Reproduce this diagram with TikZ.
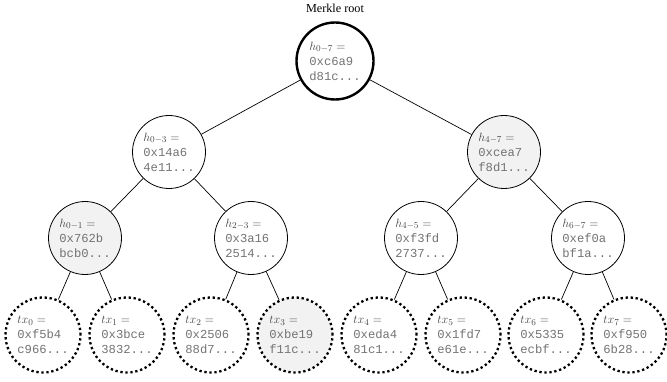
\documentclass[tikz,border=0pt]{standalone}
\usepackage{fontspec}
\setmainfont{Liberation Serif}
\setmonofont{Liberation Mono}
\definecolor{mathgray}{RGB}{70,70,70}
\definecolor{txtgray}{RGB}{115,115,115}
\definecolor{lightfill}{RGB}{242,242,242}
\begin{document}
\begin{tikzpicture}[x=1pt,y=-1pt,
  hnode/.style={circle,draw=black,line width=0.8pt,minimum size=73pt,inner sep=0pt,align=left,text=txtgray,font=\fontsize{12.2}{15}\selectfont},
  rootnode/.style={hnode,line width=2.4pt,minimum size=77pt},
  leafnode/.style={hnode,line width=2.3pt,dash pattern=on 2.3pt off 2.7pt,minimum size=75pt},
  shaded/.style={fill=lightfill},
  edge/.style={draw=black,line width=0.7pt},
  lbl/.style={font=\fontsize{12.2}{15}\selectfont,text=black}]
\useasboundingbox (0,0) rectangle (667,382);

\node[rootnode] (r) at (335,61) {\textcolor{mathgray}{$h_{0-7}=$}\\\texttt{0xc6a9}\\\texttt{d81c...}};
\node[lbl] (rl) at (335,8) {Merkle root};

\node[hnode] (a) at (169,152) {\textcolor{mathgray}{$h_{0-3}=$}\\\texttt{0x14a6}\\\texttt{4e11...}};
\node[hnode,shaded] (b) at (504,152) {\textcolor{mathgray}{$h_{4-7}=$}\\\texttt{0xcea7}\\\texttt{f8d1...}};

\node[hnode,shaded] (c) at (85,238) {\textcolor{mathgray}{$h_{0-1}=$}\\\texttt{0x762b}\\\texttt{bcb0...}};
\node[hnode] (d) at (251,238) {\textcolor{mathgray}{$h_{2-3}=$}\\\texttt{0x3a16}\\\texttt{2514...}};
\node[hnode] (e) at (421,238) {\textcolor{mathgray}{$h_{4-5}=$}\\\texttt{0xf3fd}\\\texttt{2737...}};
\node[hnode] (f) at (588,238) {\textcolor{mathgray}{$h_{6-7}=$}\\\texttt{0xef0a}\\\texttt{bf1a...}};

\node[leafnode] (t0) at (43,335) {\textcolor{mathgray}{$tx_0=$}\\\texttt{0xf5b4}\\\texttt{c966...}};
\node[leafnode] (t1) at (127,335) {\textcolor{mathgray}{$tx_1=$}\\\texttt{0x3bce}\\\texttt{3832...}};
\node[leafnode] (t2) at (211,335) {\textcolor{mathgray}{$tx_2=$}\\\texttt{0x2506}\\\texttt{88d7...}};
\node[leafnode,shaded] (t3) at (295,335) {\textcolor{mathgray}{$tx_3=$}\\\texttt{0xbe19}\\\texttt{f11c...}};
\node[leafnode] (t4) at (379,335) {\textcolor{mathgray}{$tx_4=$}\\\texttt{0xeda4}\\\texttt{81c1...}};
\node[leafnode] (t5) at (463,335) {\textcolor{mathgray}{$tx_5=$}\\\texttt{0x1fd7}\\\texttt{e61e...}};
\node[leafnode] (t6) at (546,335) {\textcolor{mathgray}{$tx_6=$}\\\texttt{0x5335}\\\texttt{ecbf...}};
\node[leafnode] (t7) at (629,335) {\textcolor{mathgray}{$tx_7=$}\\\texttt{0xf950}\\\texttt{6b28...}};

\draw[edge] (r) -- (a);
\draw[edge] (r) -- (b);
\draw[edge] (a) -- (c);
\draw[edge] (a) -- (d);
\draw[edge] (b) -- (e);
\draw[edge] (b) -- (f);
\draw[edge] (c) -- (t0);
\draw[edge] (c) -- (t1);
\draw[edge] (d) -- (t2);
\draw[edge] (d) -- (t3);
\draw[edge] (e) -- (t4);
\draw[edge] (e) -- (t5);
\draw[edge] (f) -- (t6);
\draw[edge] (f) -- (t7);
\end{tikzpicture}
\end{document}
